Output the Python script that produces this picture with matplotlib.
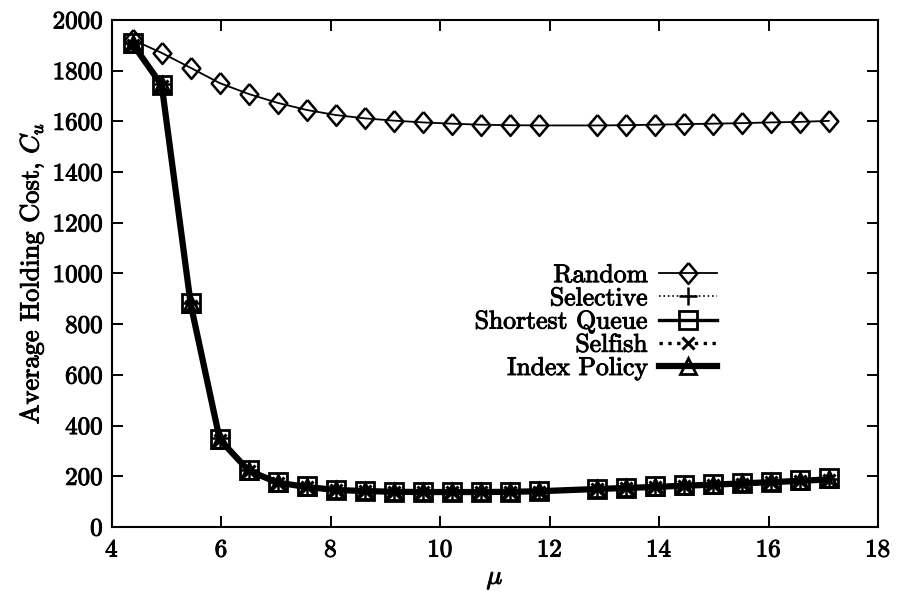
# -*- coding: utf-8 -*-
# holding cost vs mu, five routing policies
import matplotlib
matplotlib.use('Agg')
import matplotlib.pyplot as plt
import matplotlib.patheffects as pe

# ---------- data ----------
mu = [4.38, 4.91, 5.44, 5.97, 6.50, 7.03, 7.56, 8.09, 8.62, 9.15, 9.68, 10.21,
      10.74, 11.27, 11.80, 12.86, 13.39, 13.92, 14.45, 14.98, 15.51, 16.04, 16.57, 17.10]
random_cost = [1922, 1870, 1811, 1751, 1708, 1673, 1645, 1625, 1612, 1603, 1596, 1591,
               1587, 1585, 1584, 1584, 1585, 1587, 1589, 1591, 1593, 1596, 1598, 1602]
selective_cost = [1910, 1748, 885, 350, 225, 178, 160, 148, 143, 140, 139, 139,
                  139, 140, 142, 151, 155, 160, 164, 169, 174, 179, 185, 191]
shortest_cost = [1908, 1745, 882, 348, 224, 178, 160, 147, 143, 140, 139, 139,
                 139, 140, 142, 151, 155, 160, 165, 169, 174, 179, 185, 192]
selfish_cost = [1900, 1738, 872, 342, 220, 173, 156, 145, 141, 138, 137, 137,
                137, 138, 140, 149, 153, 157, 162, 166, 171, 176, 181, 186]
index_cost = [1905, 1742, 878, 345, 222, 175, 158, 146, 142, 139, 138, 138,
              138, 139, 141, 150, 154, 158, 163, 167, 172, 177, 182, 188]

labels = ['Random', 'Selective', 'Shortest Queue', 'Selfish', 'Index Policy']
xticks = [4, 6, 8, 10, 12, 14, 16, 18]
yticks = [0, 200, 400, 600, 800, 1000, 1200, 1400, 1600, 1800, 2000]

# ---------- style ----------
plt.rcParams['font.family'] = ['cmr10', 'DejaVu Serif']
plt.rcParams['mathtext.fontset'] = 'cm'
plt.rcParams['axes.formatter.use_mathtext'] = True
plt.rc('font', size=18)
heavy = [pe.withStroke(linewidth=0.7, foreground='black')]  # scanned print looks darker

diamond = [(0, 1), (0.85, 0), (0, -1), (-0.85, 0), (0, 1)]

fig = plt.figure(figsize=(9, 5.98), dpi=100)
ax = fig.add_axes([0.1244, 0.1187, 0.8512, 0.8479])

ax.plot(mu, random_cost, color='black', lw=1.3, ls='-', marker=diamond, ms=15,
        mfc='none', mec='black', mew=1.8, label=labels[0])
ax.plot(mu, selective_cost, color='black', lw=1.2, ls=':', marker='+', ms=13,
        mec='black', mew=1.8, label=labels[1])
ax.plot(mu, shortest_cost, color='black', lw=2.4, ls='-', marker='s', ms=12.5,
        mfc='none', mec='black', mew=2.0, label=labels[2])
ax.plot(mu, selfish_cost, color='black', lw=2.4, ls=':', marker='x', ms=9,
        mec='black', mew=2.2, label=labels[3])
ax.plot(mu, index_cost, color='black', lw=4.5, ls='-', marker='^', ms=11,
        mfc='none', mec='black', mew=2.0, label=labels[4])

ax.set_xlim(4, 18)
ax.set_ylim(0, 2000)
ax.set_xticks(xticks)
ax.set_yticks(yticks)
ax.tick_params(direction='in', length=8, width=1.4, top=True, right=True, labelsize=18)
ax.tick_params(axis='x', pad=9)
ax.tick_params(axis='y', pad=6)
for s in ax.spines.values():
    s.set_linewidth(1.5)

ax.set_xlabel(r'$\mu$', fontsize=19, labelpad=4)
ax.set_ylabel(r'Average Holding Cost, $C_u$', fontsize=19, labelpad=5)

leg = ax.legend(loc='center right', bbox_to_anchor=(0.79, 0.405), frameon=False,
                markerfirst=False, fontsize=18.5, handlelength=2.25, handletextpad=0.45,
                labelspacing=-0.02, borderpad=0, borderaxespad=0)

for t in ax.get_xticklabels() + ax.get_yticklabels() + leg.get_texts():
    t.set_path_effects(heavy)
ax.xaxis.label.set_path_effects(heavy)
ax.yaxis.label.set_path_effects(heavy)

fig.savefig('out.png', dpi=100)
